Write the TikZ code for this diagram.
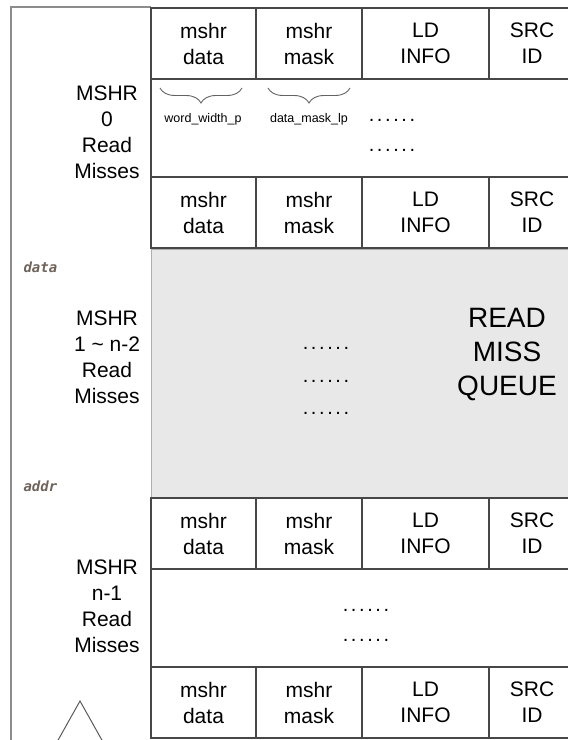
\documentclass[tikz,border=0pt]{standalone}
\usepackage{fontspec}
\setmainfont{Liberation Sans}
\newfontfamily\codefont{DejaVu Sans Mono Bold Oblique}
\usetikzlibrary{positioning,decorations.pathreplacing}

\definecolor{linea}{HTML}{474747}
\definecolor{borde}{HTML}{8C8C8C}
\definecolor{fondo}{HTML}{E8E8E8}
\definecolor{tinta}{HTML}{6E6259}

\newcommand{\puntitos}{.\kern2.6pt.\kern2.6pt.\kern2.6pt.\kern2.6pt.\kern2.6pt.}

\begin{document}
\begin{tikzpicture}[
        x=1pt, y=-1pt,
        node distance=0pt,
        celda/.style={draw=linea, line width=1.3pt, align=center, minimum height=71pt, inner sep=0pt, outer sep=0pt, font=\fontsize{21}{26}\selectfont},
        rotulo/.style={align=center, font=\fontsize{21}{26}\selectfont},
        marco/.style={draw=linea, line width=2.8pt},
        cola/.style={draw=borde!70, fill=fondo, line width=0.8pt, anchor=north west, inner sep=0pt, outer sep=0pt},
        nota/.style={font=\fontsize{12.5}{14}\selectfont},
        codigo/.style={font=\codefont\fontsize{14}{16}\selectfont, text=tinta, anchor=west},
        puntos/.style={font=\fontsize{20}{20}\selectfont, inner sep=1pt},
        llave/.style={draw=linea!85, line width=0.9pt, decorate, decoration={brace, mirror, amplitude=15pt}}
    ]
        \useasboundingbox (0,0) rectangle (568,740);
        \clip (0,0) rectangle (568,740);

        % caja exterior
        \draw[borde, line width=1.3pt] (11,750) -- (11,7) -- (151,7);

        % cola gris
        \node[cola, minimum width=424pt, minimum height=249pt] (q) at (151,249) {};
        \node[puntos] (q1) at (326,348) {\puntitos};
        \node[puntos] (q2) at (326,381) {\puntitos};
        \node[puntos] (q3) at (326,413) {\puntitos};
        \node[align=center, font=\fontsize{28}{34}\selectfont] (rmq) at (507,355) {READ\\MISS\\QUEUE};

        % MSHR 0
        \node[celda, minimum width=105pt, anchor=north west] (d0) at (151,8) {mshr\\data};
        \node[celda, minimum width=106pt, right=of d0] (m0) {mshr\\mask};
        \node[celda, minimum width=127pt, right=of m0] (l0) {LD\\INFO};
        \node[celda, minimum width=86pt, right=of l0] (s0) {SRC\\ID};

        \node[celda, minimum width=105pt, anchor=north west] (d1) at (151,177) {mshr\\data};
        \node[celda, minimum width=106pt, right=of d1] (m1) {mshr\\mask};
        \node[celda, minimum width=127pt, right=of m1] (l1) {LD\\INFO};
        \node[celda, minimum width=86pt, right=of l1] (s1) {SRC\\ID};

        \draw[marco] (d0.north west) rectangle (s1.south east);

        \coordinate (wa) at (160,88);
        \coordinate (wb) at (242,88);
        \coordinate (ma) at (268,88);
        \coordinate (mb) at (350,88);
        \draw[llave] (wa) -- (wb);
        \draw[llave] (ma) -- (mb);
        \node[nota] (ww) at (203,119) {word\_width\_p};
        \node[nota] (dm) at (309,119) {data\_mask\_lp};
        \node[puntos] (p1) at (392,120) {\puntitos};
        \node[puntos] (p2) at (392,150) {\puntitos};

        % MSHR n-1
        \node[celda, minimum width=105pt, anchor=north west] (d2) at (151,498) {mshr\\data};
        \node[celda, minimum width=106pt, right=of d2] (m2) {mshr\\mask};
        \node[celda, minimum width=127pt, right=of m2] (l2) {LD\\INFO};
        \node[celda, minimum width=86pt, right=of l2] (s2) {SRC\\ID};

        \node[celda, minimum width=105pt, anchor=north west] (d3) at (151,667) {mshr\\data};
        \node[celda, minimum width=106pt, right=of d3] (m3) {mshr\\mask};
        \node[celda, minimum width=127pt, right=of m3] (l3) {LD\\INFO};
        \node[celda, minimum width=86pt, right=of l3] (s3) {SRC\\ID};

        \draw[marco] (d2.north west) rectangle (s3.south east);

        \node[puntos] (p3) at (366,610) {\puntitos};
        \node[puntos] (p4) at (366,640) {\puntitos};

        % rotulos de la izquierda
        \node[rotulo] (r0) at (107,132) {MSHR\\0\\Read\\Misses};
        \node[rotulo] (r1) at (107,357) {MSHR\\1 \char`~\ n-2\\Read\\Misses};
        \node[rotulo] (r2) at (107,606) {MSHR\\n-1\\Read\\Misses};

        \node[codigo] (dt) at (20,267) {data};
        \node[codigo] (ad) at (20,486) {addr};

        \draw[linea!90, line width=1pt] (57,742) -- (80,701) -- (103,742);
    \end{tikzpicture}
\end{document}
